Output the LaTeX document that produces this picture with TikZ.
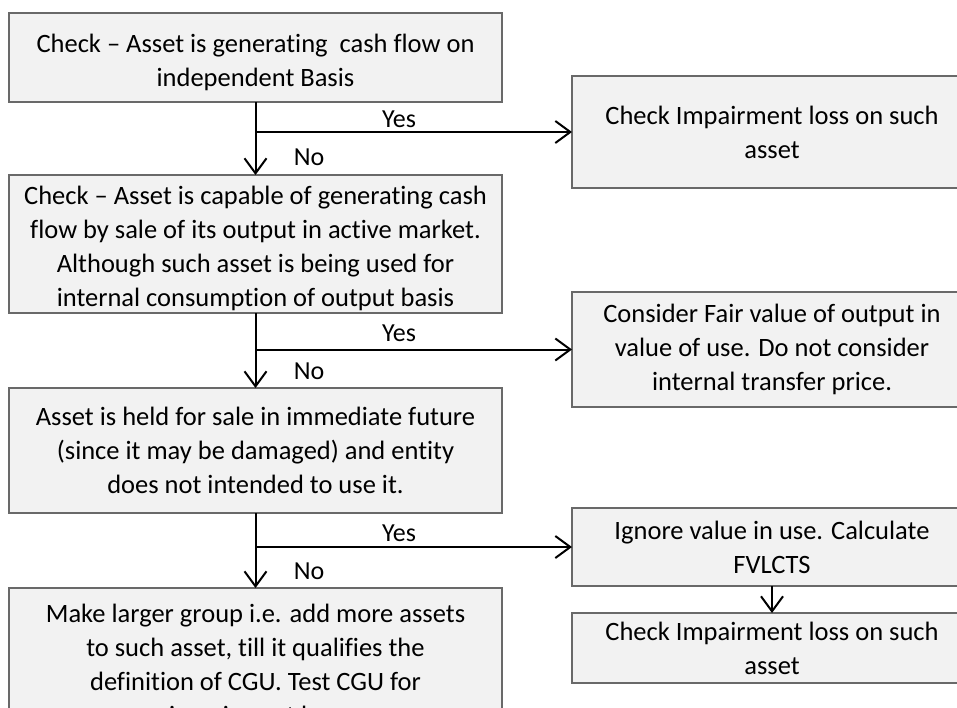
\documentclass[tikz,border=0pt]{standalone}
\usepackage{fontspec}
\setmainfont{Carlito}[Ligatures={NoCommon}]
\usetikzlibrary{arrows.meta}
\definecolor{boxfill}{RGB}{242,242,242}
\definecolor{boxline}{RGB}{105,105,105}
\tikzset{
  box/.style={draw=boxline, fill=boxfill, line width=2pt, inner sep=0pt, outer sep=0pt,
    align=center, font=\fontsize{26.5}{34}\selectfont},
  arr/.style={line width=2pt, -{Straight Barb[length=15pt,width=22pt,line width=2pt]}},
  lbl/.style={font=\fontsize{26}{30}\selectfont, inner sep=0pt}
}
\newcommand{\lowerstrut}{\rule{0pt}{28pt}}
\begin{document}
\begin{tikzpicture}[x=1pt,y=-1pt]
\useasboundingbox (0,0) rectangle (957,707);
\fill[white] (0,0) rectangle (957,707);
\clip (0,0) rectangle (957,707);

% left column
\node[box, minimum width=493pt, minimum height=89pt] (b1) at (255.5,57.5)
  {\lowerstrut Check -- Asset is generating~ cash flow on\\independent Basis};
\node[box, minimum width=493pt, minimum height=138pt] (b2) at (255.5,244)
  {\lowerstrut Check -- Asset is capable of generating cash\\flow by sale of its output in active market.\\Although such asset is being used for\\internal consumption of output basis};
\node[box, minimum width=493pt, minimum height=125pt] (b3) at (255.5,450.5)
  {Asset is held for sale in immediate future\\(since it may be damaged) and entity\\does not intended to use it.};
\node[box, minimum width=493pt, minimum height=157pt] (b4) at (255.5,666.5)
  {Make larger group i.e. add more assets\\to such asset, till it qualifies the\\definition of CGU. Test CGU for\\impairment loss};

% right column
\node[box, minimum width=400pt, minimum height=112pt] (r1) at (772,132)
  {Check Impairment loss on such\\asset};
\node[box, minimum width=400pt, minimum height=115pt] (r2) at (772,349.5)
  {Consider Fair value of output in\\value of use. Do not consider\\internal transfer price.};
\node[box, minimum width=400pt, minimum height=78pt] (r3) at (772,547)
  {Ignore value in use. Calculate\\FVLCTS};
\node[box, minimum width=400pt, minimum height=70pt] (r4) at (772,648)
  {Check Impairment loss on such\\asset};

% connectors
\draw[arr] (b1.south) -- (b2.north);
\draw[arr] (b2.south) -- (b3.north);
\draw[arr] (b3.south) -- (b4.north);
\draw[arr] (b1.south |- r1.west) -- (r1.west);
\draw[arr] (b2.south |- r2.west) -- (r2.west);
\draw[arr] (b3.south |- r3.west) -- (r3.west);
\draw[arr] (r3.south) -- (r4.north);

% labels
\node[lbl] (y1) at (399,119.5) {Yes};
\node[lbl] (n1) at (309,157) {No};
\node[lbl] (y2) at (399,333.5) {Yes};
\node[lbl] (n2) at (309,371) {No};
\node[lbl] (y3) at (399,533.5) {Yes};
\node[lbl] (n3) at (309,571) {No};
\end{tikzpicture}
\end{document}
